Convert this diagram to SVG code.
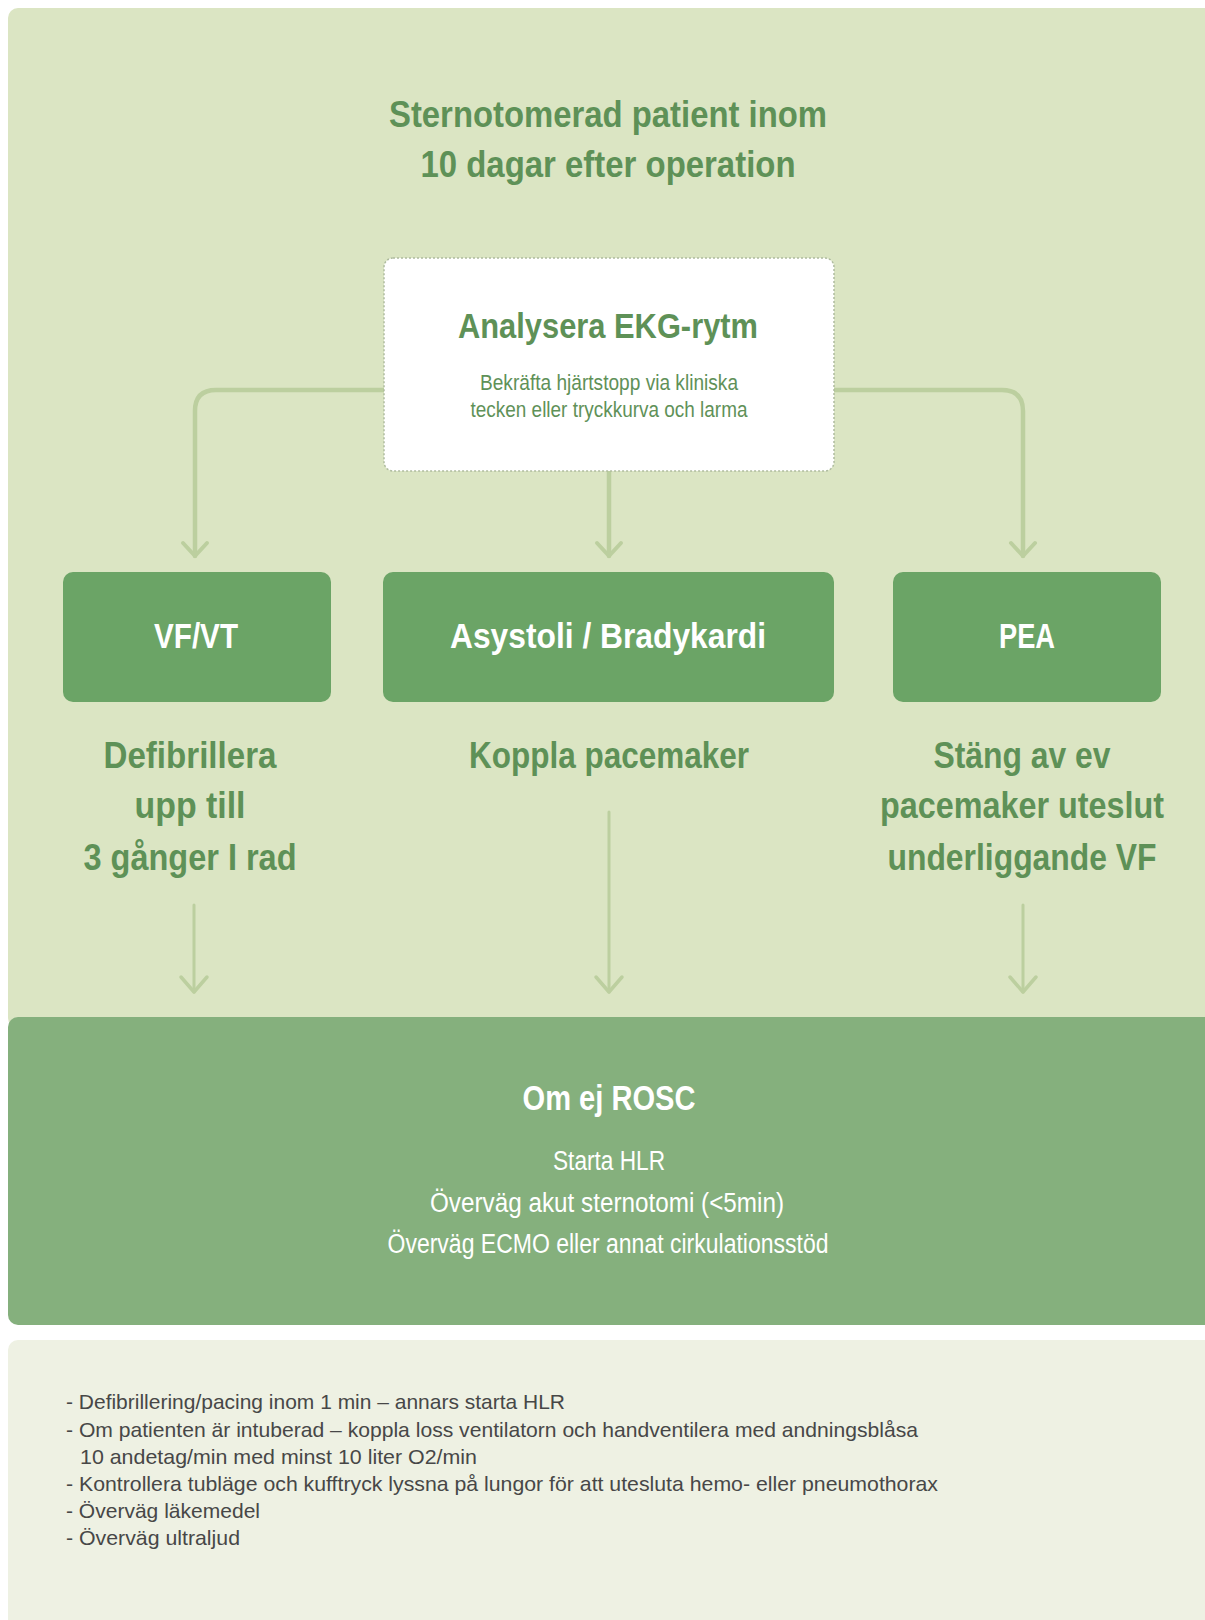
<svg xmlns="http://www.w3.org/2000/svg" width="1205" height="1620" viewBox="0 0 1205 1620">
  <defs>
    <style>
      .cond { font-family: "Liberation Sans Narrow", "Liberation Sans", Arial, sans-serif; font-weight: bold; }
      .green { fill: #5e9157; }
      .white { fill: #ffffff; }
      .center { text-anchor: middle; }
      .note { font-family: "Liberation Sans", Arial, sans-serif; font-size: 21px; fill: #474747; }
      .box { fill: #6ba466; }
      .conn { fill: none; stroke: #bccf9f; stroke-linecap: round; stroke-linejoin: round; }
    </style>
    <marker id="chev" viewBox="-20 -20 40 40" markerWidth="40" markerHeight="40" refX="0" refY="0" orient="auto" markerUnits="userSpaceOnUse">
      <path d="M-13,-12 L0,0 L-13,12" fill="none" stroke="#bccf9f" stroke-width="4" stroke-linecap="round" stroke-linejoin="round"/>
    </marker>
    <marker id="chev2" viewBox="-20 -20 40 40" markerWidth="40" markerHeight="40" refX="0" refY="0" orient="auto" markerUnits="userSpaceOnUse">
      <path d="M-15,-13 L0,0 L-15,13" fill="none" stroke="#bccf9f" stroke-width="3.5" stroke-linecap="round" stroke-linejoin="round"/>
    </marker>
  </defs>

  <rect x="0" y="0" width="1205" height="1620" fill="#ffffff"/>

  <!-- panels -->
  <rect id="top-panel" x="8" y="8" width="1220" height="1020" rx="10" fill="#dbe5c3"/>
  <rect id="notes-panel" x="8" y="1340" width="1220" height="300" rx="10" fill="#eef1e3"/>

  <!-- title -->
  <g id="title">
    <text class="cond green center" x="608" y="127" font-size="37" textLength="438" lengthAdjust="spacingAndGlyphs">Sternotomerad patient inom</text>
    <text class="cond green center" x="608" y="177" font-size="37" textLength="375" lengthAdjust="spacingAndGlyphs">10 dagar efter operation</text>
  </g>

  <!-- connectors -->
  <g id="connectors">
    <path class="conn" stroke-width="4.5" d="M384,390 H216 Q195,390 195,411 V556" marker-end="url(#chev)"/>
    <path class="conn" stroke-width="4.5" d="M609,472 V556" marker-end="url(#chev)"/>
    <path class="conn" stroke-width="4.5" d="M834,390 H1002 Q1023,390 1023,411 V556" marker-end="url(#chev)"/>
    <path class="conn" stroke-width="3" d="M194,905 V992" marker-end="url(#chev2)"/>
    <path class="conn" stroke-width="3" d="M609,812 V992" marker-end="url(#chev2)"/>
    <path class="conn" stroke-width="3" d="M1023,905 V992" marker-end="url(#chev2)"/>
  </g>

  <!-- Analysera node -->
  <g id="node-analysera">
    <rect x="384" y="258" width="450" height="213" rx="9" fill="#ffffff" stroke="#aebb9f" stroke-width="1.5" stroke-dasharray="2 2"/>
    <text class="cond green center" x="608" y="338" font-size="35" textLength="300" lengthAdjust="spacingAndGlyphs">Analysera EKG-rytm</text>
    <text class="center" x="609" y="390" font-family="Liberation Sans Narrow, Liberation Sans, Arial, sans-serif" font-size="22" fill="#5f9158" textLength="258" lengthAdjust="spacingAndGlyphs">Bekräfta hjärtstopp via kliniska</text>
    <text class="center" x="609" y="417" font-family="Liberation Sans Narrow, Liberation Sans, Arial, sans-serif" font-size="22" fill="#5f9158" textLength="277" lengthAdjust="spacingAndGlyphs">tecken eller tryckkurva och larma</text>
  </g>

  <!-- rhythm boxes -->
  <g id="node-vfvt">
    <rect class="box" x="63" y="572" width="268" height="130" rx="10"/>
    <text class="cond white center" x="196" y="648" font-size="35" textLength="84" lengthAdjust="spacingAndGlyphs">VF/VT</text>
  </g>
  <g id="node-asystoli">
    <rect class="box" x="383" y="572" width="451" height="130" rx="10"/>
    <text class="cond white center" x="608" y="648" font-size="35" textLength="316" lengthAdjust="spacingAndGlyphs">Asystoli / Bradykardi</text>
  </g>
  <g id="node-pea">
    <rect class="box" x="893" y="572" width="268" height="130" rx="10"/>
    <text class="cond white center" x="1027" y="648" font-size="35" textLength="56" lengthAdjust="spacingAndGlyphs">PEA</text>
  </g>

  <!-- actions -->
  <g id="action-defib">
    <text class="cond green center" x="190" y="768" font-size="36" textLength="173" lengthAdjust="spacingAndGlyphs">Defibrillera</text>
    <text class="cond green center" x="190" y="818" font-size="36" textLength="111" lengthAdjust="spacingAndGlyphs">upp till</text>
    <text class="cond green center" x="190" y="870" font-size="36" textLength="213" lengthAdjust="spacingAndGlyphs">3 gånger I rad</text>
  </g>
  <g id="action-pacemaker">
    <text class="cond green center" x="609" y="768" font-size="36" textLength="280" lengthAdjust="spacingAndGlyphs">Koppla pacemaker</text>
  </g>
  <g id="action-pea">
    <text class="cond green center" x="1022" y="768" font-size="36" textLength="177" lengthAdjust="spacingAndGlyphs">Stäng av ev</text>
    <text class="cond green center" x="1022" y="818" font-size="36" textLength="284" lengthAdjust="spacingAndGlyphs">pacemaker uteslut</text>
    <text class="cond green center" x="1022" y="870" font-size="36" textLength="269" lengthAdjust="spacingAndGlyphs">underliggande VF</text>
  </g>

  <!-- ROSC node -->
  <g id="node-rosc">
    <rect x="8" y="1017" width="1220" height="308" rx="10" fill="#85b07d"/>
    <text class="cond white center" x="609" y="1110" font-size="35" textLength="173" lengthAdjust="spacingAndGlyphs">Om ej ROSC</text>
    <g font-family="Liberation Sans Narrow, Liberation Sans, Arial, sans-serif" font-size="27" fill="#ffffff" text-anchor="middle">
      <text x="609" y="1170" textLength="112" lengthAdjust="spacingAndGlyphs">Starta HLR</text>
      <text x="607" y="1212" textLength="354" lengthAdjust="spacingAndGlyphs">Överväg akut sternotomi (&lt;5min)</text>
      <text x="608" y="1253" textLength="441" lengthAdjust="spacingAndGlyphs">Överväg ECMO eller annat cirkulationsstöd</text>
    </g>
  </g>

  <!-- notes -->
  <g id="notes">
    <text class="note" x="66" y="1409" textLength="499" lengthAdjust="spacingAndGlyphs">- Defibrillering/pacing inom 1 min – annars starta HLR</text>
    <text class="note" x="66" y="1437" textLength="852" lengthAdjust="spacingAndGlyphs">- Om patienten är intuberad – koppla loss ventilatorn och handventilera med andningsblåsa</text>
    <text class="note" x="80" y="1464" textLength="397" lengthAdjust="spacingAndGlyphs">10 andetag/min med minst 10 liter O2/min</text>
    <text class="note" x="66" y="1491" textLength="872" lengthAdjust="spacingAndGlyphs">- Kontrollera tubläge och kufftryck lyssna på lungor för att utesluta hemo- eller pneumothorax</text>
    <text class="note" x="66" y="1518" textLength="194" lengthAdjust="spacingAndGlyphs">- Överväg läkemedel</text>
    <text class="note" x="66" y="1545" textLength="174" lengthAdjust="spacingAndGlyphs">- Överväg ultraljud</text>
  </g>
</svg>
